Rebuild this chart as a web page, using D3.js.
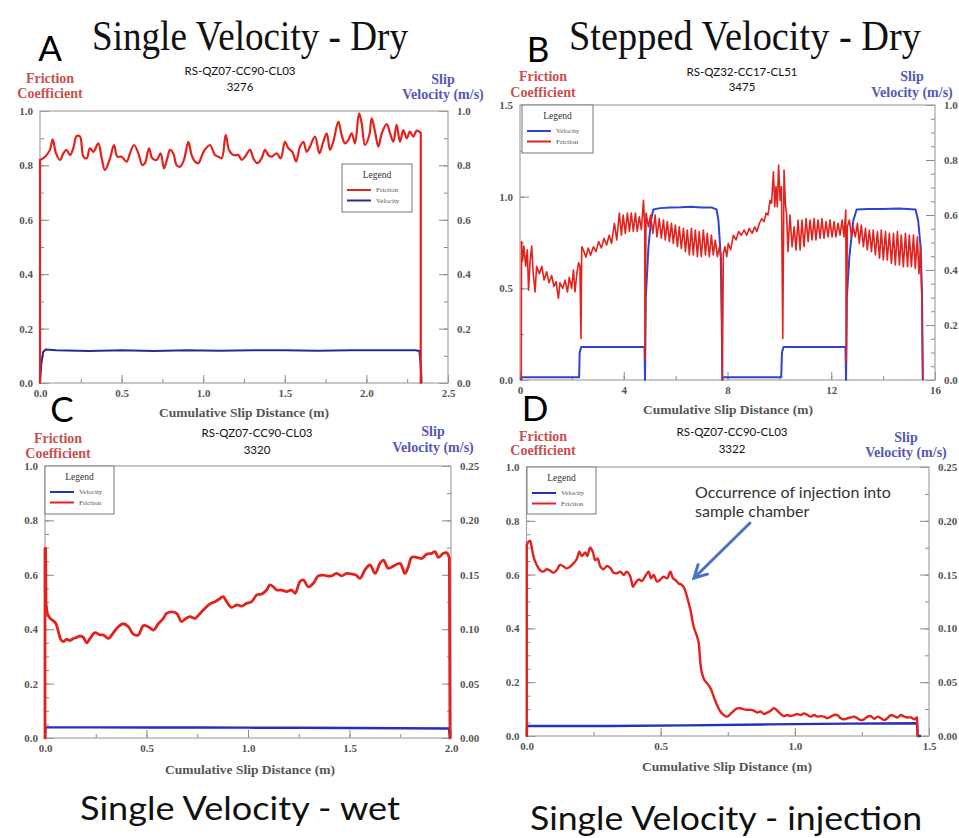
<!DOCTYPE html>
<html>
<head>
<meta charset="utf-8">
<script src="https://cdn.jsdelivr.net/npm/d3@7"></script>
<style>
  html, body { margin: 0; padding: 0; background: #ffffff; }
  svg { display: block; }
</style>
</head>
<body>
<svg id="fig" width="959" height="838"></svg>
<script>
// ---------------------------------------------------------------------------
// Rotary-shear friction tests: friction coefficient and slip velocity
// against cumulative slip distance, four runs.
// ---------------------------------------------------------------------------

const panelLetters  = ["A", "B", "C", "D"];
const panelHeadings = ["Single Velocity - Dry", "Stepped Velocity - Dry",
                       "Single Velocity - wet", "Single Velocity - injection"];
const runIds        = ["RS-QZ07-CC90-CL03", "RS-QZ32-CC17-CL51",
                       "RS-QZ07-CC90-CL03", "RS-QZ07-CC90-CL03"];
const runNumbers    = ["3276", "3475", "3320", "3322"];
const seriesNames   = ["Friction", "Velocity"];
const xAxisTitle    = "Cumulative Slip Distance (m)";
const leftAxisTitle = ["Friction", "Coefficient"];
const rightAxisTitle = ["Slip", "Velocity (m/s)"];
const injectionNote = ["Occurrence of injection into", "sample chamber"];

// tick values
const xTicksA = [0, 0.5, 1.0, 1.5, 2.0, 2.5];
const yTicksA = [0, 0.2, 0.4, 0.6, 0.8, 1.0];
const rTicksA = [0, 0.2, 0.4, 0.6, 0.8, 1.0];
const xTicksB = [0, 4, 8, 12, 16];
const yTicksB = [0, 0.5, 1.0, 1.5];
const rTicksB = [0, 0.2, 0.4, 0.6, 0.8, 1.0];
const xTicksC = [0, 0.5, 1.0, 1.5, 2.0];
const yTicksC = [0, 0.2, 0.4, 0.6, 0.8, 1.0];
const rTicksC = [0, 0.05, 0.10, 0.15, 0.20, 0.25];
const xTicksD = [0, 0.5, 1.0, 1.5];
const yTicksD = [0, 0.2, 0.4, 0.6, 0.8, 1.0];
const rTicksD = [0, 0.05, 0.10, 0.15, 0.20, 0.25];

// series: [slip distance (m), value]
const frictionA = [[0,0],[0,0.82],[0.031,0.832],[0.061,0.857],[0.078,0.896],[0.098,0.844],[0.123,0.82],[0.143,0.844],[0.163,0.857],[0.184,0.838],[0.204,0.863],[0.225,0.908],[0.245,0.906],[0.266,0.832],[0.286,0.826],[0.306,0.863],[0.327,0.85],[0.357,0.881],[0.378,0.826],[0.398,0.783],[0.429,0.826],[0.453,0.875],[0.474,0.832],[0.5,0.832],[0.531,0.814],[0.551,0.844],[0.576,0.875],[0.603,0.844],[0.627,0.801],[0.643,0.808],[0.668,0.863],[0.688,0.826],[0.715,0.82],[0.739,0.844],[0.76,0.789],[0.78,0.826],[0.797,0.857],[0.817,0.844],[0.837,0.801],[0.858,0.795],[0.882,0.82],[0.909,0.887],[0.929,0.838],[0.95,0.814],[0.97,0.808],[0.997,0.844],[1.017,0.863],[1.042,0.875],[1.072,0.838],[1.093,0.832],[1.113,0.826],[1.138,0.912],[1.158,0.857],[1.185,0.838],[1.215,0.838],[1.236,0.82],[1.256,0.832],[1.287,0.857],[1.307,0.826],[1.332,0.808],[1.358,0.826],[1.379,0.857],[1.399,0.838],[1.42,0.832],[1.45,0.844],[1.475,0.826],[1.501,0.887],[1.522,0.863],[1.546,0.85],[1.569,0.814],[1.593,0.869],[1.614,0.887],[1.634,0.85],[1.654,0.869],[1.685,0.906],[1.712,0.844],[1.736,0.887],[1.757,0.918],[1.777,0.857],[1.797,0.887],[1.828,0.961],[1.848,0.912],[1.869,0.881],[1.889,0.893],[1.91,0.918],[1.93,0.881],[1.955,0.991],[1.971,0.955],[1.991,0.875],[2.018,0.912],[2.032,0.973],[2.053,0.924],[2.073,0.869],[2.094,0.918],[2.124,0.952],[2.145,0.918],[2.165,0.887],[2.185,0.949],[2.206,0.887],[2.226,0.93],[2.247,0.9],[2.267,0.924],[2.288,0.906],[2.308,0.928],[2.333,0.92],[2.333,0]];
const velocityA = [[0,0],[0.008,0.07],[0.02,0.115],[0.035,0.123],[0.1,0.12],[0.3,0.118],[0.5,0.12],[0.7,0.118],[0.9,0.12],[1.1,0.119],[1.3,0.12],[1.5,0.12],[1.7,0.119],[1.9,0.12],[2.1,0.12],[2.3,0.12],[2.325,0.118],[2.335,0.05],[2.338,0]];

const frictionB = [[0.05,0],[0.06,0.755],[0.10,0.65],[0.15,0.73],[0.22,0.62],[0.28,0.71],[0.33,0.49],[0.39,0.65],[0.45,0.73],[0.51,0.58],[0.58,0.48],[0.64,0.62],[0.75,0.58],[0.84,0.62],[0.93,0.545],[1.03,0.59],[1.12,0.53],[1.22,0.57],[1.31,0.51],[1.39,0.536],[1.48,0.445],[1.54,0.53],[1.65,0.5],[1.74,0.545],[1.83,0.48],[1.90,0.56],[1.99,0.5],[2.06,0.6],[2.12,0.48],[2.19,0.58],[2.26,0.64],[2.31,0.62],[2.35,0.227],[2.38,0.727],[2.44,0.71],[2.54,0.67],[2.63,0.72],[2.72,0.68],[2.83,0.727],[2.93,0.70],[3.03,0.755],[3.14,0.72],[3.24,0.773],[3.34,0.736],[3.44,0.79],[3.53,0.745],[3.64,0.855],[3.73,0.764],[3.83,0.91],[3.91,0.79],[3.98,0.9],[4.06,0.8],[4.14,0.91],[4.22,0.81],[4.29,0.91],[4.37,0.81],[4.45,0.91],[4.52,0.81],[4.60,0.89],[4.68,0.82],[4.76,0.98],[4.81,0.836],[4.82,0.11],[4.86,0.91],[4.95,0.836],[5.04,0.9],[5.12,0.8],[5.21,0.9],[5.28,0.78],[5.37,0.88],[5.45,0.773],[5.53,0.873],[5.60,0.764],[5.68,0.864],[5.76,0.755],[5.84,0.855],[5.91,0.745],[5.99,0.845],[6.07,0.727],[6.14,0.836],[6.22,0.718],[6.30,0.827],[6.38,0.70],[6.45,0.818],[6.53,0.682],[6.61,0.827],[6.68,0.682],[6.76,0.818],[6.84,0.673],[6.91,0.81],[6.99,0.673],[7.07,0.818],[7.15,0.682],[7.22,0.80],[7.30,0.673],[7.38,0.79],[7.45,0.682],[7.53,0.764],[7.61,0.673],[7.69,0.727],[7.76,0.655],[7.80,0],[7.84,0.69],[7.90,0.727],[7.97,0.673],[8.03,0.745],[8.12,0.71],[8.23,0.79],[8.33,0.764],[8.43,0.81],[8.53,0.79],[8.64,0.818],[8.74,0.79],[8.84,0.827],[8.95,0.80],[9.05,0.836],[9.13,0.81],[9.23,0.855],[9.32,0.88],[9.41,0.864],[9.49,0.91],[9.56,0.90],[9.64,0.98],[9.70,0.964],[9.77,1.136],[9.82,0.945],[9.87,1.055],[9.92,0.945],[9.97,1.173],[10.03,0.98],[10.08,1.055],[10.13,0.227],[10.18,1.145],[10.23,0.964],[10.28,0.90],[10.33,0.70],[10.41,0.90],[10.49,0.727],[10.57,0.836],[10.64,0.71],[10.72,0.873],[10.80,0.71],[10.87,0.873],[10.95,0.727],[11.03,0.88],[11.11,0.755],[11.18,0.873],[11.26,0.764],[11.34,0.88],[11.41,0.764],[11.49,0.873],[11.57,0.773],[11.64,0.88],[11.72,0.773],[11.80,0.864],[11.88,0.78],[11.95,0.873],[12.03,0.78],[12.11,0.864],[12.18,0.78],[12.26,0.855],[12.34,0.79],[12.42,0.873],[12.49,0.78],[12.56,0.927],[12.58,0.09],[12.62,0.836],[12.70,0.873],[12.78,0.78],[12.85,0.836],[12.93,0.78],[13.01,0.855],[13.08,0.745],[13.16,0.845],[13.24,0.727],[13.32,0.827],[13.39,0.71],[13.47,0.818],[13.55,0.70],[13.62,0.818],[13.70,0.682],[13.78,0.81],[13.86,0.664],[13.93,0.818],[14.01,0.655],[14.09,0.81],[14.16,0.655],[14.24,0.80],[14.32,0.636],[14.40,0.80],[14.47,0.627],[14.55,0.81],[14.63,0.627],[14.70,0.79],[14.78,0.618],[14.86,0.80],[14.94,0.618],[15.01,0.79],[15.09,0.618],[15.17,0.79],[15.24,0.609],[15.32,0.78],[15.38,0.58],[15.44,0.727],[15.49,0.473],[15.53,0]];
const velocityB = [[0.05,0],[0.06,0.01],[2.28,0.01],[2.30,0.10],[2.36,0.12],[3.5,0.12],[4.80,0.12],[4.82,0.0],[4.85,0.30],[4.95,0.48],[5.05,0.58],[5.14,0.62],[5.4,0.625],[5.8,0.627],[6.2,0.628],[6.6,0.63],[7.0,0.627],[7.4,0.627],[7.58,0.62],[7.65,0.58],[7.74,0.45],[7.78,0.20],[7.80,0.0],[7.82,0.01],[10.07,0.01],[10.10,0.10],[10.16,0.12],[11.5,0.12],[12.55,0.12],[12.57,0.0],[12.60,0.30],[12.70,0.45],[12.85,0.58],[12.98,0.62],[13.4,0.622],[14.0,0.622],[14.6,0.624],[15.25,0.62],[15.35,0.58],[15.45,0.48],[15.50,0.30],[15.53,0]];

const frictionC = [[0,0],[0,0.697],[0.003,0.697],[0.005,0.495],[0.011,0.458],[0.025,0.44],[0.041,0.431],[0.054,0.42],[0.066,0.39],[0.077,0.363],[0.09,0.354],[0.107,0.363],[0.123,0.358],[0.14,0.366],[0.156,0.37],[0.172,0.375],[0.189,0.37],[0.205,0.35],[0.222,0.366],[0.246,0.387],[0.271,0.379],[0.287,0.379],[0.312,0.366],[0.337,0.387],[0.361,0.409],[0.386,0.42],[0.411,0.409],[0.435,0.382],[0.46,0.379],[0.484,0.413],[0.509,0.409],[0.534,0.397],[0.558,0.42],[0.583,0.44],[0.599,0.458],[0.624,0.464],[0.649,0.458],[0.673,0.428],[0.695,0.44],[0.714,0.446],[0.739,0.44],[0.764,0.458],[0.788,0.477],[0.813,0.493],[0.837,0.501],[0.862,0.513],[0.878,0.52],[0.895,0.501],[0.92,0.48],[0.944,0.489],[0.969,0.485],[0.993,0.495],[1.018,0.501],[1.043,0.526],[1.067,0.529],[1.092,0.544],[1.108,0.563],[1.125,0.556],[1.141,0.544],[1.166,0.544],[1.19,0.538],[1.215,0.544],[1.232,0.532],[1.256,0.575],[1.273,0.581],[1.297,0.556],[1.322,0.569],[1.346,0.596],[1.371,0.599],[1.388,0.596],[1.412,0.596],[1.437,0.605],[1.461,0.596],[1.486,0.605],[1.511,0.603],[1.532,0.599],[1.552,0.587],[1.576,0.618],[1.601,0.636],[1.626,0.605],[1.65,0.642],[1.667,0.654],[1.691,0.624],[1.716,0.632],[1.749,0.642],[1.773,0.605],[1.79,0.63],[1.806,0.664],[1.831,0.664],[1.856,0.66],[1.88,0.676],[1.905,0.679],[1.921,0.685],[1.938,0.664],[1.962,0.679],[1.979,0.681],[1.992,0.66],[1.995,0]];
const velocityC = [[0,0],[0.003,0.0098],[0.25,0.0098],[0.5,0.0097],[0.75,0.0096],[1.0,0.0095],[1.25,0.0094],[1.5,0.0092],[1.75,0.009],[1.99,0.0088],[1.995,0]];

const frictionD = [[0.001,0],[0.001,0.71],[0.007,0.722],[0.013,0.726],[0.019,0.704],[0.026,0.667],[0.038,0.636],[0.05,0.617],[0.063,0.611],[0.075,0.62],[0.088,0.615],[0.1,0.607],[0.113,0.617],[0.125,0.636],[0.138,0.63],[0.15,0.623],[0.163,0.63],[0.175,0.642],[0.187,0.657],[0.197,0.685],[0.206,0.669],[0.219,0.682],[0.227,0.669],[0.237,0.701],[0.247,0.685],[0.256,0.654],[0.265,0.66],[0.275,0.63],[0.287,0.62],[0.3,0.632],[0.314,0.623],[0.324,0.607],[0.337,0.605],[0.349,0.611],[0.362,0.599],[0.374,0.611],[0.387,0.592],[0.397,0.555],[0.405,0.567],[0.418,0.582],[0.43,0.576],[0.443,0.595],[0.455,0.611],[0.464,0.586],[0.474,0.599],[0.486,0.574],[0.499,0.582],[0.511,0.592],[0.524,0.586],[0.536,0.611],[0.546,0.586],[0.555,0.58],[0.567,0.567],[0.58,0.561],[0.588,0.549],[0.598,0.518],[0.611,0.468],[0.623,0.406],[0.636,0.369],[0.642,0.344],[0.648,0.27],[0.654,0.233],[0.663,0.208],[0.673,0.196],[0.686,0.177],[0.698,0.146],[0.71,0.115],[0.723,0.09],[0.735,0.078],[0.748,0.072],[0.76,0.082],[0.773,0.094],[0.785,0.103],[0.797,0.103],[0.81,0.099],[0.822,0.097],[0.835,0.097],[0.847,0.094],[0.86,0.087],[0.872,0.091],[0.885,0.082],[0.897,0.087],[0.91,0.094],[0.922,0.103],[0.935,0.094],[0.947,0.082],[0.959,0.074],[0.972,0.078],[0.984,0.074],[0.997,0.078],[1.009,0.082],[1.022,0.078],[1.034,0.084],[1.047,0.078],[1.059,0.072],[1.072,0.078],[1.084,0.072],[1.096,0.074],[1.109,0.072],[1.121,0.066],[1.134,0.072],[1.146,0.078],[1.159,0.078],[1.171,0.066],[1.184,0.062],[1.196,0.066],[1.209,0.069],[1.221,0.072],[1.233,0.066],[1.246,0.059],[1.258,0.062],[1.271,0.072],[1.283,0.074],[1.296,0.064],[1.308,0.072],[1.321,0.066],[1.333,0.059],[1.345,0.066],[1.358,0.078],[1.37,0.074],[1.383,0.069],[1.395,0.078],[1.408,0.072],[1.42,0.069],[1.433,0.069],[1.445,0.062],[1.455,0.069],[1.458,0]];
const velocityD = [[0.001,0],[0.002,0.0093],[0.3,0.0093],[0.6,0.0099],[0.9,0.0108],[1.2,0.0115],[1.455,0.0118],[1.458,0],[1.47,0]];

// ---------------------------------------------------------------------------
// Panel layout and styling
// ---------------------------------------------------------------------------
const SERIF = "'Liberation Serif', 'Times New Roman', serif";
const SANS  = "Lato, 'Open Sans', sans-serif";
const frictionColor = "#e3221d";
const frictionLabelColor = "#c8504e";
const velocityLabelColor = "#5558b8";
const smooth = d3.curveCatmullRom.alpha(0.5);

// headStraight / tailStraight: how many leading / trailing points of the friction
// trace are joined with straight segments (the vertical start-up and stop edges)
const panels = [
  {
    box: {l: 40, r: 448, t: 111, b: 383},
    xDomain: [0, 2.5], yDomain: [0, 1.0], rDomain: [0, 1.0],
    xTicks: xTicksA, yTicks: yTicksA, rTicks: rTicksA,
    xMinor: 0.25, yMinor: 0.1, rMinor: 0.1,
    xFmt: d3.format(".1f"), yFmt: d3.format(".1f"), rFmt: d3.format(".1f"),
    friction: frictionA, velocity: velocityA, curve: smooth, headStraight: 2, tailStraight: 2,
    velocityColor: "#2a2c90", frictionWidth: 2.2, velocityWidth: 2,
    letter: {x: 50, y: 61}, heading: {x: 250, y: 50, w: 316, size: 42, font: SERIF},
    run: {x: 240, y1: 75, y2: 91},
    leftTitle: {x: 50, y1: 83, y2: 98}, rightTitle: {x: 443, y1: 84, y2: 99},
    xTitle: {x: 244, y: 417},
    legend: {x: 342, y: 164, w: 70, h: 48, order: ["Friction", "Velocity"]}
  },
  {
    box: {l: 520, r: 935, t: 105, b: 380},
    xDomain: [0, 16], yDomain: [0, 1.5], rDomain: [0, 1.0],
    xTicks: xTicksB, yTicks: yTicksB, rTicks: rTicksB,
    xMinor: 2, yMinor: 0.25, rMinor: 0.05,
    xFmt: d3.format("d"), yFmt: d3.format(".1f"), rFmt: d3.format(".1f"),
    friction: frictionB, velocity: velocityB, curve: d3.curveLinear, headStraight: 0, tailStraight: 0,
    velocityColor: "#2f44d2", frictionWidth: 1.6, velocityWidth: 2,
    letter: {x: 538, y: 62}, heading: {x: 745, y: 50, w: 352, size: 42, font: SERIF},
    run: {x: 742, y1: 76, y2: 91},
    leftTitle: {x: 543, y1: 81, y2: 97}, rightTitle: {x: 912, y1: 81, y2: 97},
    xTitle: {x: 728, y: 414},
    legend: {x: 522, y: 105, w: 71, h: 48, order: ["Velocity", "Friction"]}
  },
  {
    box: {l: 45, r: 451, t: 466, b: 738},
    xDomain: [0, 2.0], yDomain: [0, 1.0], rDomain: [0, 0.25],
    xTicks: xTicksC, yTicks: yTicksC, rTicks: rTicksC,
    xMinor: 0.25, yMinor: 0.05, rMinor: 0.025,
    xFmt: d3.format(".1f"), yFmt: d3.format(".1f"), rFmt: d3.format(".2f"),
    friction: frictionC, velocity: velocityC, curve: smooth, headStraight: 5, tailStraight: 2,
    velocityColor: "#2031c0", frictionWidth: 2.8, velocityWidth: 2.4,
    letter: {x: 62, y: 422}, heading: {x: 240, y: 820, w: 320, size: 33, font: SANS},
    run: {x: 257, y1: 437, y2: 454},
    leftTitle: {x: 58, y1: 443, y2: 458}, rightTitle: {x: 433, y1: 436, y2: 452},
    xTitle: {x: 250, y: 774},
    legend: {x: 45, y: 466, w: 69, h: 48, order: ["Velocity", "Friction"]}
  },
  {
    box: {l: 526.5, r: 929, t: 467, b: 736},
    xDomain: [0, 1.5], yDomain: [0, 1.0], rDomain: [0, 0.25],
    xTicks: xTicksD, yTicks: yTicksD, rTicks: rTicksD,
    xMinor: 0.25, yMinor: 0.05, rMinor: 0.025,
    xFmt: d3.format(".1f"), yFmt: d3.format(".1f"), rFmt: d3.format(".2f"),
    friction: frictionD, velocity: velocityD, curve: smooth, headStraight: 2, tailStraight: 2,
    velocityColor: "#2233b8", frictionWidth: 2.4, velocityWidth: 2.4,
    letter: {x: 535, y: 421}, heading: {x: 726, y: 830, w: 392, size: 33, font: SANS},
    run: {x: 732, y1: 436, y2: 453},
    leftTitle: {x: 543, y1: 441, y2: 455}, rightTitle: {x: 906, y1: 442, y2: 457},
    xTitle: {x: 727, y: 771},
    legend: {x: 527, y: 467, w: 69, h: 47, order: ["Velocity", "Friction"]}
  }
];

const svg = d3.select("#fig");
svg.append("rect").attr("width", 959).attr("height", 838).attr("fill", "#ffffff");

function styleAxis(sel, withText) {
  sel.select(".domain").remove();
  sel.selectAll(".tick line").attr("stroke", "#8a8a8a").attr("stroke-width", 1);
  sel.selectAll(".tick text")
    .attr("font-family", SERIF).attr("font-size", 11)
    .attr("fill", "#555").attr("font-weight", "bold");
  if (!withText) sel.selectAll(".tick text").remove();
}

function minorValues(domain, step) {
  return d3.range(domain[0], domain[1] + step * 0.5, step);
}

panels.forEach((p, i) => {
  const g = svg.append("g");
  const {l, r, t, b} = p.box;
  const x  = d3.scaleLinear().domain(p.xDomain).range([l, r]);
  const yL = d3.scaleLinear().domain(p.yDomain).range([b, t]);
  const yR = d3.scaleLinear().domain(p.rDomain).range([b, t]);

  // minor ticks (inward, no labels)
  g.append("g").attr("transform", `translate(0,${b})`)
    .call(d3.axisBottom(x).tickValues(minorValues(p.xDomain, p.xMinor)).tickSizeInner(-4).tickSizeOuter(0).tickFormat(""))
    .call(s => styleAxis(s, false));
  g.append("g").attr("transform", `translate(${l},0)`)
    .call(d3.axisLeft(yL).tickValues(minorValues(p.yDomain, p.yMinor)).tickSizeInner(-4).tickSizeOuter(0).tickFormat(""))
    .call(s => styleAxis(s, false));
  g.append("g").attr("transform", `translate(${r},0)`)
    .call(d3.axisRight(yR).tickValues(minorValues(p.rDomain, p.rMinor)).tickSizeInner(-4).tickSizeOuter(0).tickFormat(""))
    .call(s => styleAxis(s, false));

  // major ticks with labels
  g.append("g").attr("transform", `translate(0,${b})`)
    .call(d3.axisBottom(x).tickValues(p.xTicks).tickSizeInner(-8).tickSizeOuter(0).tickPadding(6).tickFormat(p.xFmt))
    .call(s => styleAxis(s, true));
  g.append("g").attr("transform", `translate(${l},0)`)
    .call(d3.axisLeft(yL).tickValues(p.yTicks).tickSizeInner(-9).tickSizeOuter(0).tickPadding(7).tickFormat(p.yFmt))
    .call(s => styleAxis(s, true));
  g.append("g").attr("transform", `translate(${r},0)`)
    .call(d3.axisRight(yR).tickValues(p.rTicks).tickSizeInner(-9).tickSizeOuter(0).tickPadding(9).tickFormat(p.rFmt))
    .call(s => styleAxis(s, true));

  // frame
  g.append("rect").attr("x", l).attr("y", t).attr("width", r - l).attr("height", b - t)
    .attr("fill", "none").attr("stroke", "#a3a3a3").attr("stroke-width", 1.2);

  // velocity trace
  const vLine = d3.line().x(d => x(d[0])).y(d => yR(d[1]));
  g.append("path").datum(p.velocity).attr("d", vLine)
    .attr("fill", "none").attr("stroke", p.velocityColor).attr("stroke-width", p.velocityWidth)
    .attr("stroke-linejoin", "round");

  // friction trace: straight start/stop edges, smoothed body
  const n = p.friction.length;
  const straight = d3.line().x(d => x(d[0])).y(d => yL(d[1]));
  const body = d3.line().curve(p.curve).x(d => x(d[0])).y(d => yL(d[1]));
  const pieces = [];
  if (p.headStraight > 1) pieces.push(straight(p.friction.slice(0, p.headStraight)));
  pieces.push(body(p.friction.slice(Math.max(0, p.headStraight - 1),
                                     n - Math.max(0, p.tailStraight - 1))));
  if (p.tailStraight > 1) pieces.push(straight(p.friction.slice(n - p.tailStraight)));
  g.append("path").attr("d", pieces.join(""))
    .attr("fill", "none").attr("stroke", frictionColor).attr("stroke-width", p.frictionWidth)
    .attr("stroke-linejoin", "round").attr("stroke-linecap", "round");

  // legend
  const lg = p.legend;
  const leg = g.append("g").attr("transform", `translate(${lg.x},${lg.y})`);
  leg.append("rect").attr("width", lg.w).attr("height", lg.h)
    .attr("fill", "#ffffff").attr("stroke", "#8c8c8c").attr("stroke-width", 1.2);
  leg.append("text").attr("x", lg.w / 2).attr("y", 14).attr("text-anchor", "middle")
    .attr("font-family", SERIF).attr("font-size", 9.5).attr("fill", "#333").text("Legend");
  lg.order.forEach((name, k) => {
    const yy = 26 + k * 10.5;
    leg.append("line").attr("x1", 5).attr("x2", 29).attr("y1", yy).attr("y2", yy)
      .attr("stroke", name === seriesNames[0] ? frictionColor : p.velocityColor).attr("stroke-width", 2);
    leg.append("text").attr("x", 34).attr("y", yy + 2.3)
      .attr("font-family", SERIF).attr("font-size", 7).attr("fill", "#555").text(name);
  });

  // axis titles
  g.append("text").attr("x", p.xTitle.x).attr("y", p.xTitle.y)
    .attr("text-anchor", "middle").attr("font-family", SERIF).attr("font-size", 13.5)
    .attr("font-weight", "bold").attr("fill", "#555").text(xAxisTitle);
  [p.leftTitle.y1, p.leftTitle.y2].forEach((yy, k) =>
    g.append("text").attr("x", p.leftTitle.x).attr("y", yy).attr("text-anchor", "middle")
      .attr("font-family", SERIF).attr("font-size", 14).attr("font-weight", "bold")
      .attr("fill", frictionLabelColor).text(leftAxisTitle[k]));
  [p.rightTitle.y1, p.rightTitle.y2].forEach((yy, k) =>
    g.append("text").attr("x", p.rightTitle.x).attr("y", yy).attr("text-anchor", "middle")
      .attr("font-family", SERIF).attr("font-size", 14).attr("font-weight", "bold")
      .attr("fill", velocityLabelColor).text(rightAxisTitle[k]));

  // run identifiers
  g.append("text").attr("x", p.run.x).attr("y", p.run.y1).attr("text-anchor", "middle")
    .attr("font-family", SANS).attr("font-size", 11.5).attr("fill", "#111").text(runIds[i]);
  g.append("text").attr("x", p.run.x).attr("y", p.run.y2).attr("text-anchor", "middle")
    .attr("font-family", SANS).attr("font-size", 11.5).attr("fill", "#111").text(runNumbers[i]);

  // panel letter and heading
  g.append("text").attr("x", p.letter.x).attr("y", p.letter.y).attr("text-anchor", "middle")
    .attr("font-family", SANS).attr("font-size", 35).attr("fill", "#000").text(panelLetters[i]);
  g.append("text").attr("x", p.heading.x).attr("y", p.heading.y).attr("text-anchor", "middle")
    .attr("font-family", p.heading.font).attr("font-size", p.heading.size).attr("fill", "#111")
    .attr("textLength", p.heading.w).attr("lengthAdjust", "spacingAndGlyphs")
    .text(panelHeadings[i]);
});

// injection note with arrow (panel D)
const note = svg.append("g");
note.append("text").attr("x", 695).attr("y", 498).attr("font-family", SANS)
  .attr("font-size", 16).attr("fill", "#333").text(injectionNote[0]);
note.append("text").attr("x", 695).attr("y", 517).attr("font-family", SANS)
  .attr("font-size", 16).attr("fill", "#333").text(injectionNote[1]);
const arrow = {x1: 750, y1: 523, x2: 694, y2: 578};
note.append("line").attr("x1", arrow.x1).attr("y1", arrow.y1).attr("x2", arrow.x2).attr("y2", arrow.y2)
  .attr("stroke", "#4a72c4").attr("stroke-width", 3).attr("stroke-linecap", "round");
{
  const ang = Math.atan2(arrow.y2 - arrow.y1, arrow.x2 - arrow.x1);
  const len = 14, spread = 0.5;
  const p1 = [arrow.x2 - len * Math.cos(ang - spread), arrow.y2 - len * Math.sin(ang - spread)];
  const p2 = [arrow.x2 - len * Math.cos(ang + spread), arrow.y2 - len * Math.sin(ang + spread)];
  note.append("path").attr("d", `M${p1[0]},${p1[1]}L${arrow.x2},${arrow.y2}L${p2[0]},${p2[1]}`)
    .attr("fill", "none").attr("stroke", "#4a72c4").attr("stroke-width", 3)
    .attr("stroke-linecap", "round").attr("stroke-linejoin", "miter");
}
</script>
</body>
</html>
